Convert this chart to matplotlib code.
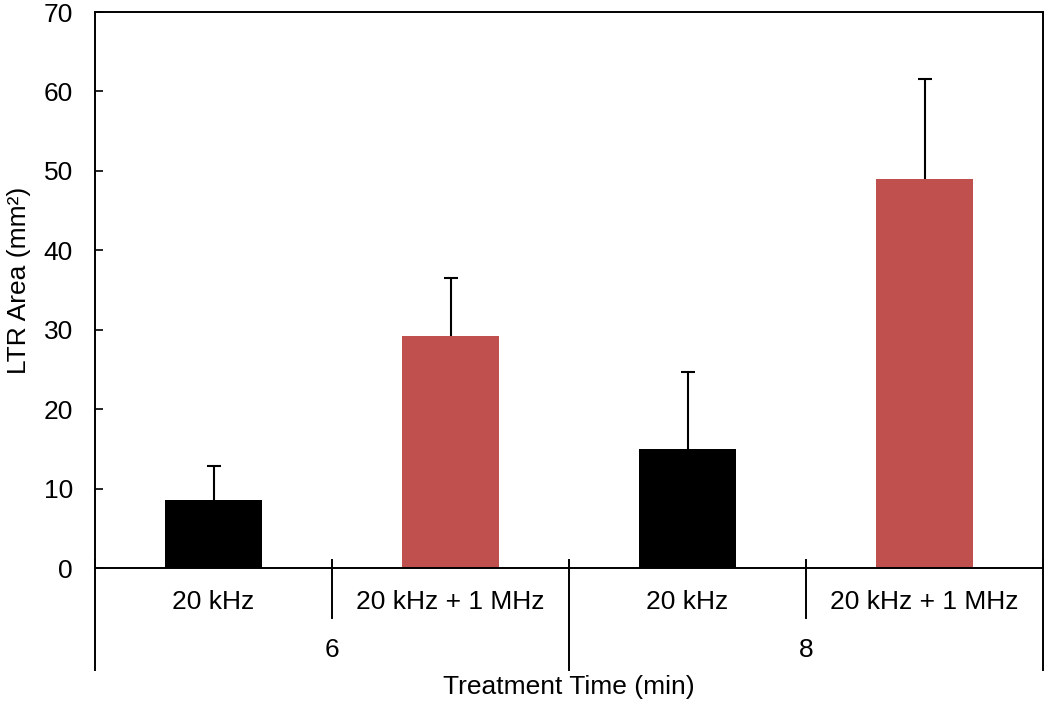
import matplotlib.pyplot as plt
import matplotlib.transforms as mtransforms

plt.rcParams['font.family'] = ['Liberation Sans', 'DejaVu Sans']

# data
treatments = ["20 kHz", "20 kHz + 1 MHz", "20 kHz", "20 kHz + 1 MHz"]
times = ["6", "8"]
area = [8.5, 29.2, 15.0, 49.0]
area_err = [4.3, 7.3, 9.7, 12.6]
colors = ["#000000", "#C0504D", "#000000", "#C0504D"]

fig = plt.figure(figsize=(10.5, 7.04), dpi=100)
ax = fig.add_axes([95 / 1050, 136 / 704, 948 / 1050, 556 / 704])

x = list(range(len(area)))
ax.bar(x, area, width=0.41, color=colors, zorder=2)
eb = ax.errorbar(x, area, yerr=[[0] * len(area), area_err], fmt="none",
                 ecolor="black", elinewidth=1.5, capsize=5, capthick=1.5, zorder=3)
# only the upper cap, like the original
eb[1][0].set_visible(False)

ax.set_xlim(-0.5, 3.5)
ax.set_ylim(0, 70)
ax.set_yticks(range(0, 71, 10))
ax.tick_params(axis="y", direction="in", length=6, width=1.2, labelsize=19, pad=16)
ax.set_xticks([])
for s in ax.spines.values():
    s.set_linewidth(1.4)

# two-level category axis
trans = mtransforms.blended_transform_factory(ax.transData, ax.transAxes)
for i, lab in enumerate(treatments):
    ax.text(i, -0.061, lab, transform=trans, ha="center", va="center", fontsize=19)
for j, lab in enumerate(times):
    ax.text(2 * j + 0.5, -0.147, lab, transform=trans, ha="center", va="center", fontsize=19)

short_sep = [0.5, 2.5]
long_sep = [-0.5, 1.5, 3.5]
for b in short_sep:
    ax.plot([b, b], [0.0144, -0.09], transform=trans, color="black", lw=1.4, clip_on=False)
for b in long_sep:
    ax.plot([b, b], [0.0144, -0.1835], transform=trans, color="black", lw=1.4, clip_on=False)

fig.text(19 / 1050, (704 - 280) / 704, "LTR Area (mm²)", rotation=90,
         ha="center", va="center", fontsize=19)
fig.text(ax.get_position().x0 + ax.get_position().width / 2, 17 / 704,
         "Treatment Time (min)", ha="center", va="center", fontsize=19)

fig.savefig("out.png", dpi=100)
